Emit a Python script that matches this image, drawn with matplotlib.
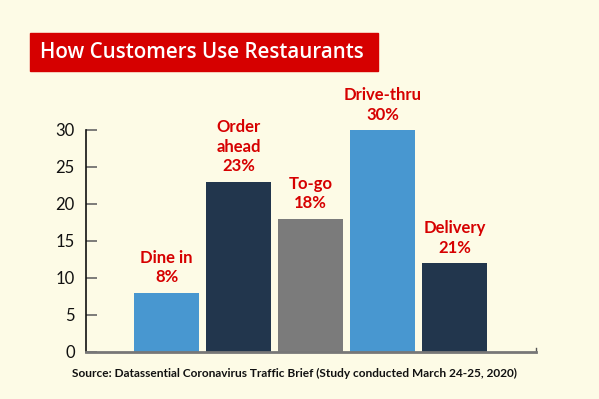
import matplotlib.pyplot as plt
from matplotlib.patches import Rectangle

categories = ["Dine in", "Order\nahead", "To-go", "Drive-thru", "Delivery"]
values = [8, 23, 18, 30, 12]
labels = ["8%", "23%", "18%", "30%", "21%"]
colors = ["#4897d0", "#22364d", "#7b7b7b", "#4897d0", "#22364d"]
yticks = [0, 5, 10, 15, 20, 25, 30]

bg = "#fdfbe6"
red = "#d60000"

fig = plt.figure(figsize=(5.99, 3.99), dpi=100, facecolor=bg)
ax = fig.add_axes([0.1436, 0.1178, 0.7513, 0.5564], facecolor=bg)

x = range(len(values))
ax.bar(x, values, width=0.9, color=colors, zorder=2)
for i, (c, l, v) in enumerate(zip(categories, labels, values)):
    ax.text(i, v + 1.0, c + "\n" + l, ha="center", va="bottom", color=red,
            fontsize=12, fontweight="bold", family="Lato", linespacing=1.28)

ax.set_xlim(-1.118, 5.132)
ax.set_ylim(0, 30)
ax.set_xticks([])
ax.set_yticks(yticks)
ax.tick_params(axis="y", direction="in", length=8, width=1.2, color="#666666",
               labelsize=12, pad=8, labelcolor="#111111")
for t in ax.get_yticklabels():
    t.set_family("Lato")
for s in ["top", "right"]:
    ax.spines[s].set_visible(False)
ax.spines["left"].set_color("#111111")
ax.spines["left"].set_linewidth(1.2)
ax.spines["bottom"].set_color("#777777")
ax.spines["bottom"].set_linewidth(2)
ax.plot([1, 1], [0, 0.02], transform=ax.transAxes, color="#555555", lw=1, clip_on=False)

# title box
fig.patches.append(Rectangle((30 / 599, 1 - 71 / 399), 348 / 599, 38 / 399,
                             transform=fig.transFigure, color=red))
fig.text(40 / 599, 1 - 52 / 399, "How Customers Use Restaurants", color="white",
         fontsize=14.8, fontweight="semibold", family="Open Sans", va="center", ha="left")

fig.text(294 / 599, 1 - 373 / 399,
         "Source: Datassential Coronavirus Traffic Brief (Study conducted March 24-25, 2020)",
         ha="center", va="center", fontsize=8.6, fontweight="bold", family="Lato", color="#111111")

fig.savefig("out.png", dpi=100, facecolor=bg)
